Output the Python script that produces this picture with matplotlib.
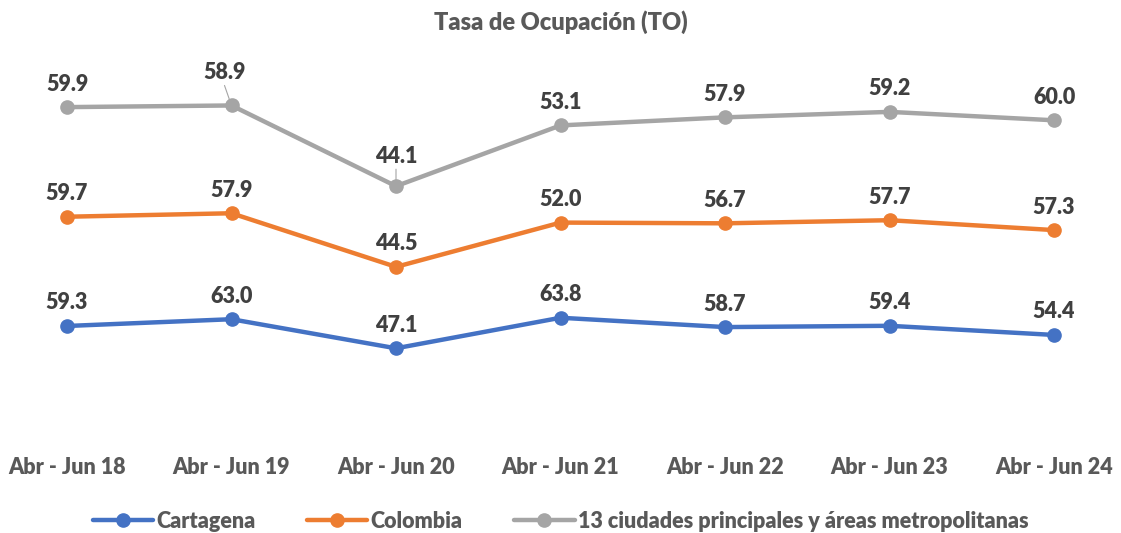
import matplotlib
matplotlib.use("Agg")
import matplotlib.pyplot as plt
import numpy as np

# ---- data --------------------------------------------------------------
periods = ["Abr - Jun 18", "Abr - Jun 19", "Abr - Jun 20", "Abr - Jun 21",
           "Abr - Jun 22", "Abr - Jun 23", "Abr - Jun 24"]
cartagena = [59.3, 63.0, 47.1, 63.8, 58.7, 59.4, 54.4]
colombia = [59.7, 57.9, 44.5, 52.0, 56.7, 57.7, 57.3]
ciudades13 = [59.9, 58.9, 44.1, 53.1, 57.9, 59.2, 60.0]
series_names = ["Cartagena", "Colombia",
                "13 ciudades principales y áreas metropolitanas"]

# ---- style -------------------------------------------------------------
COLORS = ["#4472C4", "#ED7D31", "#A5A5A5"]
TXT = "#404040"
TITLE_COL = "#595959"
FONT = ["Lato", "DejaVu Sans"]
LABEL_OFF = 23          # px, label centre above the marker centre
# labels that Excel moved further up, with a leader line:
# (series, index) -> (dx px, dy px)
LEADER_OFF = {(2, 1): (-7, 33), (2, 2): (0, 30)}

plt.rcParams["font.family"] = FONT
plt.rcParams["font.weight"] = "bold"

DPI = 100
W, H = 1121, 533
fig = plt.figure(figsize=(W / DPI, H / DPI), dpi=DPI)

# stacked line chart: each series sits on top of the previous one
x = np.arange(len(periods))
stack = np.cumsum([cartagena, colombia, ciudades13], axis=0)

# plot area in pixels: x-categories from 67 to 1054, y zero at 434.5
x0, x1 = 67, 1054
y_zero, px_per_unit, ytop = 434.5, 1.83, 200
ax = fig.add_axes([x0 / W, (H - y_zero) / H, (x1 - x0) / W,
                   ytop * px_per_unit / H])
ax.set_xlim(0, len(periods) - 1)
ax.set_ylim(0, ytop)
ax.axis("off")

px2pt = 72 / DPI
handles = []
for k, (vals, ys) in enumerate(zip([cartagena, colombia, ciudades13], stack)):
    h, = ax.plot(x, ys, color=COLORS[k], lw=3.2, marker="o", ms=9.5,
                 clip_on=False, solid_capstyle="round", label=series_names[k])
    handles.append(h)
    for i, (xi, yi, v) in enumerate(zip(x, ys, vals)):
        dx, dy = LEADER_OFF.get((k, i), (0, LABEL_OFF))
        ax.annotate(f"{v:.1f}", (xi, yi), xytext=(dx * px2pt, dy * px2pt),
                    textcoords="offset points", ha="center", va="center",
                    fontsize=15.5, color=TXT, fontweight="heavy")
        if (k, i) in LEADER_OFF:
            ax.annotate("", (xi, yi), xytext=(dx * px2pt, (dy - 13) * px2pt),
                        textcoords="offset points",
                        arrowprops=dict(arrowstyle="-", color="#A5A5A5",
                                        lw=0.8, shrinkA=0, shrinkB=0))

# category labels
for xi, lab in zip(x, periods):
    ax.annotate(lab, (xi, 0), xytext=(0, -(467 - y_zero) * px2pt),
                textcoords="offset points", ha="center", va="center",
                fontsize=15.5, color=TITLE_COL, fontweight="heavy",
                annotation_clip=False)

fig.text(0.5, 1 - 22 / H, "Tasa de Ocupación (TO)", ha="center",
         va="center", fontsize=17, color=TITLE_COL, fontweight="heavy")

fig.legend(handles=handles, loc="center", bbox_to_anchor=(0.5, 1 - 521 / H),
           ncol=3, frameon=False, labelcolor=TITLE_COL,
           handlelength=2.8, handletextpad=0.15, columnspacing=2.4,
           prop={"weight": "heavy", "size": 15.5})

fig.savefig("out.png", dpi=DPI)
